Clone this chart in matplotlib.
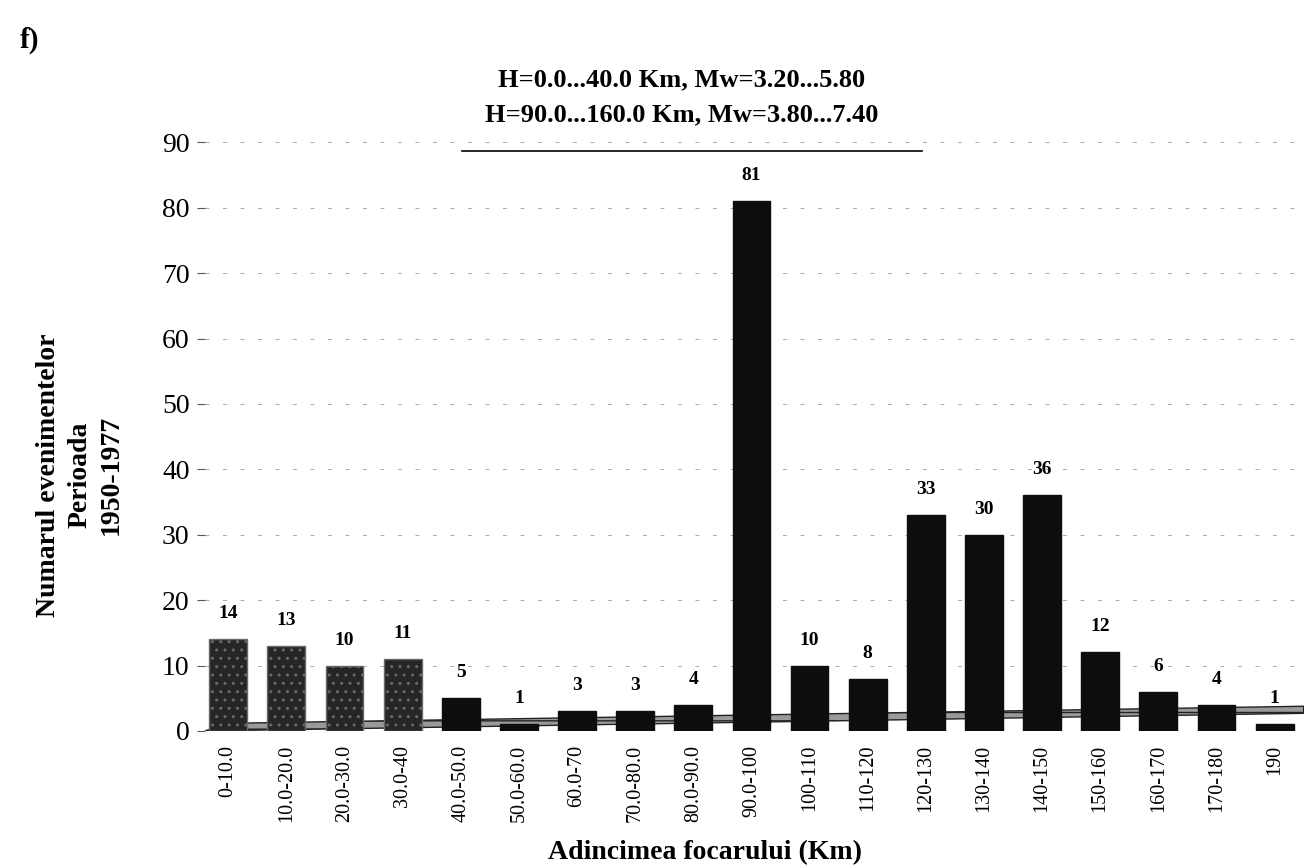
import numpy as np
import matplotlib.pyplot as plt
from matplotlib.patches import Polygon

plt.rcParams['font.family'] = ['Liberation Serif', 'DejaVu Serif']

categories = ['0-10.0', '10.0-20.0', '20.0-30.0', '30.0-40', '40.0-50.0',
              '50.0-60.0', '60.0-70', '70.0-80.0', '80.0-90.0', '90.0-100',
              '100-110', '110-120', '120-130', '130-140', '140-150',
              '150-160', '160-170', '170-180', '190']
counts = [14, 13, 10, 11, 5, 1, 3, 3, 4, 81, 10, 8, 33, 30, 36, 12, 6, 4, 1]
yticks = [0, 10, 20, 30, 40, 50, 60, 70, 80, 90]

fig = plt.figure(figsize=(13.08, 8.67), dpi=100)
ax = fig.add_axes([0.1567, 0.1569, 0.840, 0.679])

x = np.arange(len(categories))

# thin tilted base strip under the bars
floor = Polygon([(0.0, 0.0), (1.0, 0.03), (1.0, 0.042), (0.02, 0.013)],
                closed=True, transform=ax.transAxes, facecolor='#9a9a9a',
                edgecolor='#222222', hatch='--', lw=1.0, zorder=1)
ax.add_patch(floor)

bars = ax.bar(x, counts, width=0.65, color='#0d0d0d', edgecolor='#0d0d0d',
              zorder=5)
for b in bars[:4]:
    b.set_facecolor('#262626')
    b.set_hatch('..')
    b.set_edgecolor('#6a6a6a')

for xi, v in zip(x, counts):
    ax.text(xi, v + 2.6, str(v), ha='center', va='bottom',
            fontsize=14, fontweight='bold', zorder=6)

ax.set_xlim(-0.4, 18.5)
ax.set_ylim(0, 90)
ax.set_yticks(yticks)
ax.set_yticklabels([str(t) for t in yticks], fontsize=20)
ax.set_xticks(x)
ax.set_xticklabels(categories, rotation=90, fontsize=14.5)
ax.tick_params(axis='x', length=0, pad=10)
ax.tick_params(axis='y', length=6, width=0.8, color='#555555', pad=5)

for t in yticks[1:]:
    ax.axhline(t, color='#aaaaaa', lw=0.7, ls=(0, (4, 14)), zorder=0)

for s in ax.spines.values():
    s.set_visible(False)

fig.text(0.539, 0.017, 'Adincimea focarului (Km)', ha='center',
         va='center', fontsize=20, fontweight='bold')
fig.text(0.061, 0.452, 'Numarul evenimentelor\nPerioada\n1950-1977',
         rotation=90, ha='center', va='center', fontsize=20,
         fontweight='bold', linespacing=1.32)

fig.text(0.521, 0.908, 'H=0.0...40.0 Km, Mw=3.20...5.80',
         ha='center', va='center', fontsize=19, fontweight='bold')
fig.text(0.521, 0.867, 'H=90.0...160.0 Km, Mw=3.80...7.40',
         ha='center', va='center', fontsize=19, fontweight='bold')
fig.add_artist(plt.Line2D([0.353, 0.705], [0.826, 0.826],
                          transform=fig.transFigure, color='black', lw=1.2))

fig.text(0.015, 0.945, 'f)', fontsize=21, fontweight='bold')

fig.savefig('out.png', dpi=100)
